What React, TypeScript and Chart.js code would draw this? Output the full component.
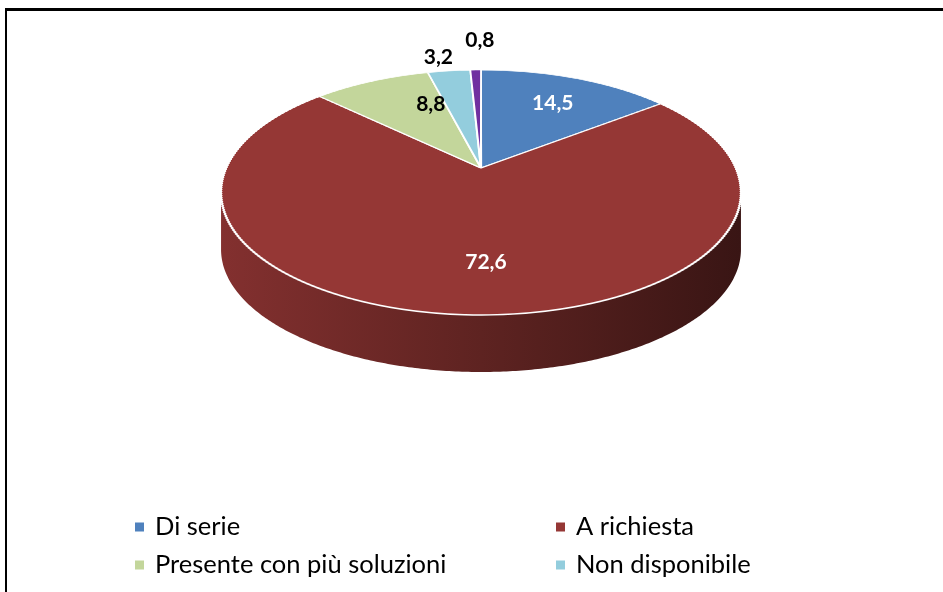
import React, { useEffect, useRef } from "react";
import { Chart, registerables } from "chart.js";

Chart.register(...registerables);

// Data
const categories = ["Di serie", "A richiesta", "Presente con più soluzioni", "Non disponibile", "Non indicato"];
const shares = [14.5, 72.6, 8.8, 3.2, 0.8];
const legendEntries = 4; // the last category is not listed in the legend

// Styling
const sliceColors = ["#4F81BD", "#953735", "#C3D69B", "#93CDDD", "#7030A0"];
const labelInk = ["#ffffff", "#ffffff", "#000000", "#000000", "#000000"];
const labelOutside = [false, false, false, true, true];
const labelNudge: [number, number][] = [[2, 1], [16, -1], [30, 0], [-6, 0], [5, -16]];

const W = 943;
const H = 592;

// Perspective view of the pie disc: centre on screen, half-axes, tilt factor, wall height
const VIEW = { cx: 481, cy: 168, ax: 254.7, by: 117.6, persp: 0.2, depth: 57 };
const TAU = Math.PI * 2;

function project(u: number, v: number) {
  const w = 1 - VIEW.persp * v;
  return { x: VIEW.cx + (VIEW.ax * u) / w, y: VIEW.cy + (VIEW.by * v) / w };
}

function unprojectY(y: number) {
  const s = (y - VIEW.cy) / VIEW.by;
  return s / (1 + VIEW.persp * s);
}

function shade(hex: string, f: number) {
  const n = parseInt(hex.slice(1), 16);
  const r = Math.round(((n >> 16) & 255) * f);
  const g = Math.round(((n >> 8) & 255) * f);
  const b = Math.round((n & 255) * f);
  return `rgb(${r},${g},${b})`;
}

const fmt = (v: number) => v.toFixed(1).replace(".", ",");

const pie3d = {
  id: "pie3d",
  beforeDraw(chart: any) {
    const ctx = chart.ctx;
    ctx.save();
    ctx.fillStyle = "#ffffff";
    ctx.fillRect(0, 0, chart.width, chart.height);
    ctx.fillStyle = "#000000";
    ctx.fillRect(5, 8, chart.width - 5, 3);
    ctx.fillRect(5, 8, 2, chart.height - 8);
    ctx.restore();
  },
  beforeDatasetsDraw(chart: any) {
    const ctx = chart.ctx;
    const arcs = chart.getDatasetMeta(0).data;
    if (!arcs.length) return false;
    const { x: pcx, y: pcy, outerRadius: R } = arcs[0].getProps(["x", "y", "outerRadius"], true);

    // side wall of the disc (front half only)
    const aMin = Math.asin(VIEW.persp);
    const aMax = Math.PI - aMin;
    const leftX = project(Math.cos(aMax), Math.sin(aMax)).x;
    const rightX = project(Math.cos(aMin), Math.sin(aMin)).x;
    arcs.forEach((arc: any, i: number) => {
      const { startAngle, endAngle } = arc.getProps(["startAngle", "endAngle"], true);
      for (let k = -1; k <= 1; k++) {
        const a = Math.max(startAngle + k * TAU, aMin);
        const b = Math.min(endAngle + k * TAU, aMax);
        if (b <= a) continue;
        const n = Math.max(2, Math.ceil((b - a) / 0.01));
        const rim: { x: number; y: number }[] = [];
        for (let j = 0; j <= n; j++) {
          const t = a + ((b - a) * j) / n;
          rim.push(project(Math.cos(t), Math.sin(t)));
        }
        ctx.save();
        ctx.beginPath();
        rim.forEach((p, j) => (j ? ctx.lineTo(p.x, p.y) : ctx.moveTo(p.x, p.y)));
        for (let j = rim.length - 1; j >= 0; j--) ctx.lineTo(rim[j].x, rim[j].y + VIEW.depth);
        ctx.closePath();
        const g = ctx.createLinearGradient(leftX, 0, rightX, 0);
        const base = sliceColors[i];
        g.addColorStop(0, shade(base, 0.88));
        g.addColorStop(0.5, shade(base, 0.63));
        g.addColorStop(1, shade(base, 0.38));
        ctx.fillStyle = g;
        ctx.fill();
        ctx.restore();
      }
    });

    // top face, drawn in thin horizontal bands with a per-band affine map
    const STEP = 2;
    const yTop = Math.floor(project(0, -1).y) - 4;
    const yBot = Math.ceil(project(0, 1).y) + 4;
    for (let ya = yTop; ya < yBot; ya += STEP) {
      const yb = ya + STEP;
      const Va = unprojectY(ya);
      const Vb = unprojectY(yb);
      const wm = 1 - (VIEW.persp * (Va + Vb)) / 2;
      const sx = VIEW.ax / (wm * R);
      const sy = (yb - ya) / ((Vb - Va) * R);
      ctx.save();
      ctx.beginPath();
      ctx.rect(0, ya, chart.width, yb - ya);
      ctx.clip();
      ctx.transform(sx, 0, 0, sy, VIEW.cx - sx * pcx, ya - sy * pcy - Va * sy * R);
      arcs.forEach((arc: any) => arc.draw(ctx));
      ctx.restore();
    }
    return false;
  },
  afterDraw(chart: any) {
    const ctx = chart.ctx;
    const arcs = chart.getDatasetMeta(0).data;
    const values = chart.data.datasets[0].data as number[];
    const colors = chart.data.datasets[0].backgroundColor as string[];

    // value labels
    ctx.save();
    ctx.font = "bold 21px Lato";
    ctx.textAlign = "center";
    ctx.textBaseline = "middle";
    arcs.forEach((arc: any, i: number) => {
      const { startAngle, endAngle } = arc.getProps(["startAngle", "endAngle"], true);
      const mid = (startAngle + endAngle) / 2;
      const f = labelOutside[i] ? 1.18 : 0.7;
      const p = project(f * Math.cos(mid), f * Math.sin(mid));
      ctx.fillStyle = labelInk[i];
      ctx.fillText(fmt(values[i]), p.x + labelNudge[i][0], p.y + labelNudge[i][1]);
    });
    ctx.restore();

    // legend in two columns
    ctx.save();
    ctx.font = "25.5px Lato";
    ctx.textAlign = "left";
    ctx.textBaseline = "middle";
    const colX = [135, 556];
    const rowY = [527, 565];
    for (let i = 0; i < legendEntries; i++) {
      const x = colX[i % 2];
      const y = rowY[Math.floor(i / 2)];
      ctx.fillStyle = colors[i];
      ctx.fillRect(x, y - 4.5, 9, 9);
      ctx.fillStyle = "#000000";
      ctx.fillText(chart.data.labels[i], x + 20, y);
    }
    ctx.restore();
  },
};

export default function App() {
  const ref = useRef<HTMLCanvasElement | null>(null);
  useEffect(() => {
    if (!ref.current) return;
    const chart = new Chart(ref.current, {
      type: "pie",
      data: {
        labels: categories,
        datasets: [
          {
            data: shares,
            backgroundColor: sliceColors,
            borderColor: "#ffffff",
            borderWidth: 2.5,
          },
        ],
      },
      options: {
        responsive: false,
        animation: false,
        events: [],
        layout: { padding: 0 },
        plugins: { legend: { display: false }, tooltip: { enabled: false } },
      },
      plugins: [pie3d],
    });
    return () => chart.destroy();
  }, []);
  return (
    <div style={{ position: "absolute", left: 0, top: 0, width: W, height: H, background: "#fff" }}>
      <canvas ref={ref} width={W} height={H} style={{ display: "block", width: W, height: H }} />
    </div>
  );
}
